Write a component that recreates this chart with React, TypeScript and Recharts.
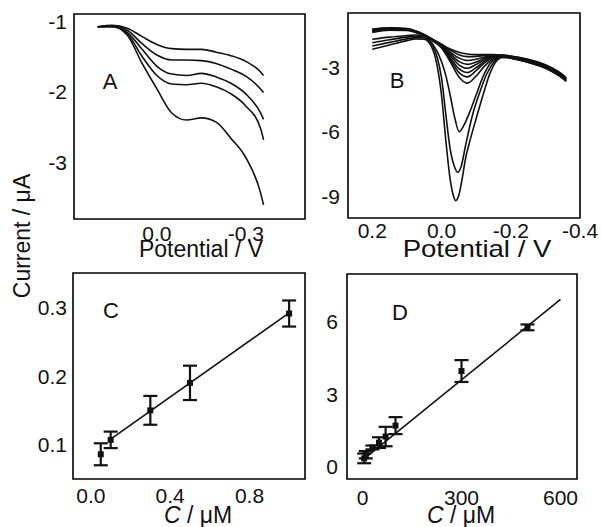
import React from 'react';
import { ComposedChart, Line, Scatter, ErrorBar, XAxis, YAxis, ReferenceArea } from 'recharts';

const FONT = '"Liberation Sans", Arial, Helvetica, sans-serif';
const INK = '#111';

// ---------- Panel A ----------
const aPotential = [0.2, 0.15, 0.1, 0.05, 0.0, -0.05, -0.1, -0.15, -0.2, -0.25, -0.3, -0.35, -0.36];
const aCurve1 = [-1.08, -1.06, -1.10, -1.22, -1.33, -1.39, -1.40, -1.40, -1.44, -1.49, -1.57, -1.72, -1.77];
const aCurve2 = [-1.08, -1.07, -1.13, -1.32, -1.48, -1.55, -1.55, -1.56, -1.60, -1.68, -1.78, -1.96, -2.01];
const aCurve3 = [-1.08, -1.07, -1.16, -1.40, -1.64, -1.75, -1.77, -1.74, -1.79, -1.88, -2.03, -2.30, -2.39];
const aCurve4 = [-1.08, -1.08, -1.18, -1.50, -1.77, -1.89, -1.90, -1.88, -1.93, -2.03, -2.20, -2.52, -2.68];
const aCurve5 = [-1.08, -1.08, -1.20, -1.60, -1.96, -2.30, -2.40, -2.37, -2.43, -2.66, -2.93, -3.43, -3.60];

// ---------- Panel B ----------
const bGrid = [0.2, 0.15, 0.1, 0.075, 0.05, 0.025, 0, -0.025, -0.05, -0.075, -0.1, -0.125, -0.15, -0.175, -0.2, -0.25, -0.3, -0.35, -0.36];
const bCurve1 = [-1.25, -1.19, -1.22, -1.33, -1.50, -1.72, -1.95, -2.17, -2.32, -2.40, -2.43, -2.43, -2.43, -2.45, -2.49, -2.64, -2.90, -3.36, -3.50];
const bCurve2 = [-1.27, -1.20, -1.23, -1.34, -1.51, -1.73, -1.96, -2.22, -2.43, -2.52, -2.51, -2.47, -2.44, -2.46, -2.51, -2.66, -2.92, -3.38, -3.52];
const bCurve3 = [-1.29, -1.21, -1.24, -1.35, -1.52, -1.74, -1.98, -2.31, -2.58, -2.70, -2.64, -2.54, -2.47, -2.47, -2.53, -2.68, -2.94, -3.40, -3.54];
const bCurve4 = [-1.31, -1.23, -1.26, -1.36, -1.53, -1.75, -2.00, -2.39, -2.74, -2.88, -2.77, -2.60, -2.49, -2.48, -2.54, -2.70, -2.96, -3.42, -3.56];
const bCurve5 = [-1.33, -1.25, -1.27, -1.37, -1.54, -1.76, -2.02, -2.47, -2.90, -3.06, -2.89, -2.66, -2.51, -2.49, -2.56, -2.72, -2.98, -3.44, -3.58];
const bCurve6 = [-1.36, -1.27, -1.29, -1.38, -1.55, -1.77, -2.04, -2.56, -3.08, -3.26, -3.03, -2.73, -2.53, -2.50, -2.57, -2.73, -3.00, -3.46, -3.60];
const bCurve7 = [-1.40, -1.30, -1.31, -1.40, -1.56, -1.78, -2.06, -2.65, -3.25, -3.46, -3.17, -2.80, -2.56, -2.51, -2.58, -2.75, -3.02, -3.48, -3.62];
const bCurve8 = [-1.72, -1.62, -1.55, -1.52, -1.58, -1.80, -2.12, -2.75, -3.45, -3.75, -3.42, -2.95, -2.62, -2.52, -2.58, -2.76, -3.03, -3.50, -3.64];

const bPeak6Pot = [0.2, 0.15, 0.1, 0.075, 0.05, 0.025, 0.0, -0.0125, -0.025, -0.0375, -0.051, -0.065, -0.08, -0.1, -0.12, -0.14, -0.16, -0.18, -0.2, -0.25, -0.3, -0.35, -0.36];
const bPeak6Cur = [-1.88, -1.74, -1.62, -1.58, -1.62, -1.95, -2.75, -3.4, -4.3, -5.3, -6.0, -5.7, -5.15, -4.3, -3.45, -2.85, -2.6, -2.52, -2.58, -2.77, -3.04, -3.51, -3.65];
const bPeak8Pot = [0.2, 0.15, 0.1, 0.075, 0.05, 0.025, 0.0125, 0.0, -0.0125, -0.025, -0.037, -0.047, -0.057, -0.07, -0.09, -0.11, -0.13, -0.15, -0.17, -0.2, -0.25, -0.3, -0.35, -0.36];
const bPeak8Cur = [-2.03, -1.86, -1.70, -1.64, -1.66, -2.05, -2.55, -3.5, -5.2, -6.8, -7.6, -7.88, -7.6, -6.6, -5.2, -4.2, -3.35, -2.8, -2.56, -2.58, -2.78, -3.05, -3.52, -3.66];
const bPeak9Pot = [0.2, 0.15, 0.1, 0.075, 0.05, 0.025, 0.0125, 0.0, -0.0125, -0.025, -0.034, -0.041, -0.05, -0.06, -0.07, -0.08, -0.1, -0.12, -0.14, -0.16, -0.18, -0.2, -0.25, -0.3, -0.35, -0.36];
const bPeak9Cur = [-2.18, -1.98, -1.78, -1.70, -1.72, -2.2, -2.95, -4.3, -6.4, -8.2, -8.95, -9.2, -8.95, -8.15, -7.2, -6.55, -5.4, -4.3, -3.3, -2.7, -2.52, -2.6, -2.79, -3.06, -3.53, -3.67];

// ---------- Panel C ----------
const cConc = [0.05, 0.1, 0.3, 0.5, 1.0];
const cCurrent = [0.086, 0.107, 0.150, 0.190, 0.291];
const cError = [0.016, 0.012, 0.021, 0.025, 0.019];
const cFitConc = [0.1, 1.0];
const cFitCurrent = [0.108, 0.292];

// ---------- Panel D ----------
const dConc = [5, 10, 30, 50, 70, 100, 300, 500];
const dCurrent = [0.35, 0.5, 0.8, 1.0, 1.25, 1.7, 3.95, 5.75];
const dError = [0.2, 0.15, 0.08, 0.22, 0.4, 0.35, 0.45, 0.12];
const dFitConc = [0, 600];
const dFitCurrent = [0.28, 6.9];

// ---------- Axis domains and ticks ----------
const aXDomain = [-0.5, 0.28];
const aYDomain = [-3.8, -0.9];
const aXTicks = [0.15, 0, -0.15, -0.3, -0.45];
const aXMajor = [0, -0.3];
const aXLabels = ['0.0', '-0.3'];
const aYTicks = [-1, -1.5, -2, -2.5, -3, -3.5];
const aYMajor = [-1, -2, -3];
const aYLabels = ['-1', '-2', '-3'];

const bXDomain = [-0.4, 0.27];
const bYDomain = [-10, -0.5];
const bXTicks = [0.2, 0.1, 0, -0.1, -0.2, -0.3, -0.4];
const bXMajor = [0.2, 0, -0.2, -0.4];
const bXLabels = ['0.2', '0.0', '-0.2', '-0.4'];
const bYTicks = [-1.5, -3, -4.5, -6, -7.5, -9];
const bYMajor = [-3, -6, -9];
const bYLabels = ['-3', '-6', '-9'];

const cXDomain = [-0.09, 1.08];
const cYDomain = [0.05, 0.35];
const cXTicks = [0, 0.2, 0.4, 0.6, 0.8, 1.0];
const cXMajor = [0, 0.4, 0.8];
const cXLabels = ['0.0', '0.4', '0.8'];
const cYTicks = [0.1, 0.15, 0.2, 0.25, 0.3];
const cYMajor = [0.1, 0.2, 0.3];
const cYLabels = ['0.1', '0.2', '0.3'];

const dXDomain = [-47, 650];
const dYDomain = [-0.5, 7.95];
const dXTicks = [0, 150, 300, 450, 600];
const dXMajor = [0, 300, 600];
const dXLabels = ['0', '300', '600'];
const dYTicks = [0, 1.5, 3, 4.5, 6, 7.5];
const dYMajor = [0, 3, 6];
const dYLabels = ['0', '3', '6'];

const pts = (xs: number[], ys: number[]) => xs.map((v, k) => ({ v, i: ys[k] }));
const xy = (xs: number[], ys: number[], es?: number[]) => xs.map((x, k) => ({ x, y: ys[k], e: es ? es[k] : 0 }));

const aSeries = [aCurve1, aCurve2, aCurve3, aCurve4, aCurve5].map((c) => pts(aPotential, c));
const bSeries = [
  ...[bCurve1, bCurve2, bCurve3, bCurve4, bCurve5, bCurve6, bCurve7, bCurve8].map((c) => pts(bGrid, c)),
  pts(bPeak6Pot, bPeak6Cur),
  pts(bPeak8Pot, bPeak8Cur),
  pts(bPeak9Pot, bPeak9Cur),
];
const cPoints = xy(cConc, cCurrent, cError);
const cFit = xy(cFitConc, cFitCurrent);
const dPoints = xy(dConc, dCurrent, dError);
const dFit = xy(dFitConc, dFitCurrent);

const isIn = (list: number[], v: number) => list.findIndex((m) => Math.abs(m - v) < 1e-9);

type TickOpts = { majors: number[]; labels: string[]; side: 'left' | 'bottom'; gap: number; fontSize: number };

// Labels for the major ticks only; the tick marks are drawn by the tick scatter below.
function makeTick(o: TickOpts) {
  return (props: any) => {
    const { x, y, payload } = props;
    const idx = isIn(o.majors, payload.value);
    if (idx < 0) return <g />;
    if (o.side === 'left') {
      return (
        <text x={x - o.gap} y={y} dy="0.36em" textAnchor="end" fontSize={o.fontSize} fontFamily={FONT} fill={INK}>
          {o.labels[idx]}
        </text>
      );
    }
    return (
      <text x={x} y={y + o.gap} textAnchor="middle" fontSize={o.fontSize} fontFamily={FONT} fill={INK}>
        {o.labels[idx]}
      </text>
    );
  };
}

const Square = (p: any) => <rect x={p.cx - 3} y={p.cy - 3} width={6} height={6} fill={INK} />;

// Tick mark shapes: drawn at the scaled position of each tick on the frame edge.
const XTickMark = (p: any) => (
  <path d={`M${p.cx},${p.cy}v${p.payload.len}`} stroke="#000" strokeWidth={1.4} fill="none" />
);
const YTickMark = (p: any) => (
  <path d={`M${p.cx},${p.cy}h${-p.payload.len}`} stroke="#000" strokeWidth={1.4} fill="none" />
);

type Geo = { xd: number[]; yd: number[]; reversed: boolean };

function frameAndTicks(g: Geo, xTicks: number[], xMajor: number[], yTicks: number[], yMajor: number[]) {
  const leftEdge = g.reversed ? g.xd[1] : g.xd[0];
  const xTickData = xTicks.map((t) => ({ v: t, x: t, y: g.yd[0], len: isIn(xMajor, t) >= 0 ? 5 : 3.5 }));
  const yTickData = yTicks.map((t) => ({ v: leftEdge, x: leftEdge, y: t, len: isIn(yMajor, t) >= 0 ? 5 : 3.5 }));
  return [
    <Scatter key="xticks" xAxisId="b" yAxisId="l" data={xTickData} dataKey="y" shape={XTickMark} isAnimationActive={false} />,
    <Scatter key="yticks" xAxisId="b" yAxisId="l" data={yTickData} dataKey="y" shape={YTickMark} isAnimationActive={false} />,
    <ReferenceArea key="frame" xAxisId="b" yAxisId="l" x1={g.xd[0]} x2={g.xd[1]} y1={g.yd[0]} y2={g.yd[1]}
      fill="none" fillOpacity={0} stroke="#000" strokeWidth={1.6} strokeOpacity={1} ifOverflow="visible" />,
  ];
}

const TF = 21;

function xAxisFor(domain: number[], ticks: number[], majors: number[], labels: string[], gap: number, reversed: boolean, key: string) {
  return (
    <XAxis xAxisId="b" dataKey={key} type="number" domain={domain} reversed={reversed} allowDataOverflow
      ticks={ticks} interval={0} tickSize={0} tickMargin={0} tickLine={false} height={30} axisLine={false}
      tick={makeTick({ majors, labels, side: 'bottom', gap, fontSize: TF })} />
  );
}

function yAxisFor(domain: number[], ticks: number[], majors: number[], labels: string[], gap: number, width: number) {
  return (
    <YAxis yAxisId="l" type="number" domain={domain} allowDataOverflow width={width}
      ticks={ticks} interval={0} tickSize={0} tickMargin={0} tickLine={false} axisLine={false}
      tick={makeTick({ majors, labels, side: 'left', gap, fontSize: TF })} />
  );
}

const geoA: Geo = { xd: aXDomain, yd: aYDomain, reversed: true };
const geoB: Geo = { xd: bXDomain, yd: bYDomain, reversed: true };
const geoC: Geo = { xd: cXDomain, yd: cYDomain, reversed: false };
const geoD: Geo = { xd: dXDomain, yd: dYDomain, reversed: false };

export default function App() {
  return (
    <div style={{ position: 'absolute', left: 0, top: 0, width: 601, height: 527, background: '#fff', fontFamily: FONT }}>
      {/* Panel A */}
      <div style={{ position: 'absolute', left: 0, top: 0 }}>
        <ComposedChart width={320} height={260} margin={{ top: 14, right: 15, bottom: 11, left: 0 }}>
          {xAxisFor(aXDomain, aXTicks, aXMajor, aXLabels, 22, true, 'v')}
          {yAxisFor(aYDomain, aYTicks, aYMajor, aYLabels, 7, 74)}
          {aSeries.map((s, k) => (
            <Line key={k} xAxisId="b" yAxisId="l" data={s} dataKey="i" type="monotone" dot={false}
              stroke={INK} strokeWidth={1.6} isAnimationActive={false} />
          ))}
          {frameAndTicks(geoA, aXTicks, aXMajor, aYTicks, aYMajor)}
        </ComposedChart>
      </div>

      {/* Panel B */}
      <div style={{ position: 'absolute', left: 290, top: 0 }}>
        <ComposedChart width={311} height={260} margin={{ top: 13, right: 21, bottom: 12, left: 0 }}>
          {xAxisFor(bXDomain, bXTicks, bXMajor, bXLabels, 20, true, 'v')}
          {yAxisFor(bYDomain, bYTicks, bYMajor, bYLabels, 8, 58)}
          {bSeries.map((s, k) => (
            <Line key={k} xAxisId="b" yAxisId="l" data={s} dataKey="i" type="monotone" dot={false}
              stroke={INK} strokeWidth={1.6} isAnimationActive={false} />
          ))}
          {frameAndTicks(geoB, bXTicks, bXMajor, bYTicks, bYMajor)}
        </ComposedChart>
      </div>

      {/* Panel C */}
      <div style={{ position: 'absolute', left: 0, top: 260 }}>
        <ComposedChart width={320} height={267} margin={{ top: 13, right: 15, bottom: 18, left: 0 }}>
          {xAxisFor(cXDomain, cXTicks, cXMajor, cXLabels, 24, false, 'x')}
          {yAxisFor(cYDomain, cYTicks, cYMajor, cYLabels, 6, 73)}
          <Line xAxisId="b" yAxisId="l" data={cFit} dataKey="y" type="linear" dot={false}
            stroke={INK} strokeWidth={1.6} isAnimationActive={false} />
          <Scatter xAxisId="b" yAxisId="l" data={cPoints} dataKey="y" shape={Square} isAnimationActive={false}>
            <ErrorBar dataKey="e" direction="y" width={7} strokeWidth={2.2} stroke={INK} />
          </Scatter>
          {frameAndTicks(geoC, cXTicks, cXMajor, cYTicks, cYMajor)}
        </ComposedChart>
      </div>

      {/* Panel D */}
      <div style={{ position: 'absolute', left: 290, top: 260 }}>
        <ComposedChart width={311} height={267} margin={{ top: 14, right: 24, bottom: 18, left: 0 }}>
          {xAxisFor(dXDomain, dXTicks, dXMajor, dXLabels, 26, false, 'x')}
          {yAxisFor(dYDomain, dYTicks, dYMajor, dYLabels, 9, 57)}
          <Line xAxisId="b" yAxisId="l" data={dFit} dataKey="y" type="linear" dot={false}
            stroke={INK} strokeWidth={1.6} isAnimationActive={false} />
          <Scatter xAxisId="b" yAxisId="l" data={dPoints} dataKey="y" shape={Square} isAnimationActive={false}>
            <ErrorBar dataKey="e" direction="y" width={7} strokeWidth={2.2} stroke={INK} />
          </Scatter>
          {frameAndTicks(geoD, dXTicks, dXMajor, dYTicks, dYMajor)}
        </ComposedChart>
      </div>

      {/* Titles and panel letters */}
      <svg width={601} height={527} style={{ position: 'absolute', left: 0, top: 0, pointerEvents: 'none' }} fontFamily={FONT} fill={INK}>
        <text x={110} y={89} textAnchor="middle" fontSize={22}>A</text>
        <text x={397} y={88} textAnchor="middle" fontSize={22}>B</text>
        <text x={111} y={318} textAnchor="middle" fontSize={22}>C</text>
        <text x={400} y={320} textAnchor="middle" fontSize={22}>D</text>
        <text x={201} y={257} textAnchor="middle" fontSize={23}>Potential / V</text>
        <text transform="translate(477,257) scale(1.2,1)" textAnchor="middle" fontSize={23}>Potential / V</text>
        <text x={198} y={523} textAnchor="middle" fontSize={23}>
          <tspan fontStyle="italic">C</tspan>{' / \u03bcM'}
        </text>
        <text x={461} y={523} textAnchor="middle" fontSize={23}>
          <tspan fontStyle="italic">C</tspan>{' / \u03bcM'}
        </text>
        <text transform="translate(30,236) rotate(-90)" textAnchor="middle" fontSize={23}>Current / {'\u03bc'}A</text>
      </svg>
    </div>
  );
}
